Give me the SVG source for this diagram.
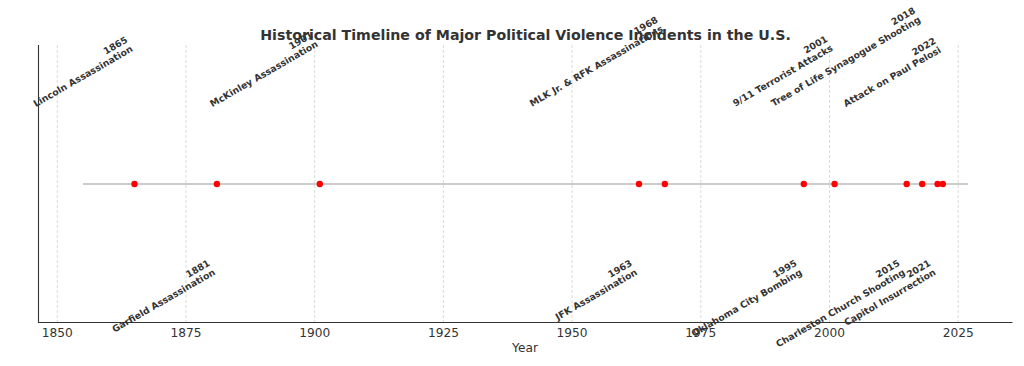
<svg xmlns="http://www.w3.org/2000/svg" width="1024" height="366" viewBox="0 0 1024 366">
<style>
text{font-family:"DejaVu Sans","Liberation Sans",sans-serif;fill:#333333}
.title{font-size:14.2px;font-weight:bold;text-anchor:middle}
.tick{font-size:12.2px;text-anchor:middle}
.lbl{font-size:9.3px;font-weight:bold;text-anchor:end}
.grid{stroke:#d0d0d0;stroke-width:0.8;stroke-dasharray:3 2;fill:none}
.spine{stroke:#333333;stroke-width:1.1;fill:none}
.dot{fill:#ff0000}
</style>
<rect width="1024" height="366" fill="#ffffff"/>
<g id="grid">
<line class="grid" x1="57.3" y1="45" x2="57.3" y2="322.5"/>
<line class="grid" x1="186" y1="45" x2="186" y2="322.5"/>
<line class="grid" x1="314.7" y1="45" x2="314.7" y2="322.5"/>
<line class="grid" x1="443.4" y1="45" x2="443.4" y2="322.5"/>
<line class="grid" x1="572.1" y1="45" x2="572.1" y2="322.5"/>
<line class="grid" x1="700.8" y1="45" x2="700.8" y2="322.5"/>
<line class="grid" x1="829.5" y1="45" x2="829.5" y2="322.5"/>
<line class="grid" x1="958.2" y1="45" x2="958.2" y2="322.5"/>
</g>
<g id="axes">
<path class="spine" d="M38.5,45 V322.5 H1012.5"/>
<text class="tick" x="57.3" y="336.7">1850</text>
<text class="tick" x="186" y="336.7">1875</text>
<text class="tick" x="314.7" y="336.7">1900</text>
<text class="tick" x="443.4" y="336.7">1925</text>
<text class="tick" x="572.1" y="336.7">1950</text>
<text class="tick" x="700.8" y="336.7">1975</text>
<text class="tick" x="829.5" y="336.7">2000</text>
<text class="tick" x="958.2" y="336.7">2025</text>
<text class="tick" x="525" y="351.7">Year</text>
</g>
<g id="connectors">
<line x1="83" y1="184" x2="968" y2="184" stroke="#cccccc" stroke-width="2.2"/>
</g>
<g id="event-1865">
<circle class="dot" cx="134.5" cy="184" r="3.2"/>
<g transform="translate(133.5,50.8) rotate(-30)"><text class="lbl"><tspan x="0" y="-10.41">1865</tspan><tspan x="0" y="0">Lincoln Assassination</tspan></text></g>
</g>
<g id="event-1881">
<circle class="dot" cx="216.9" cy="184" r="3.2"/>
<g transform="translate(215.9,274.1) rotate(-30)"><text class="lbl"><tspan x="0" y="-10.41">1881</tspan><tspan x="0" y="0">Garfield Assassination</tspan></text></g>
</g>
<g id="event-1901">
<circle class="dot" cx="319.8" cy="184" r="3.2"/>
<g transform="translate(318.8,45.9) rotate(-30)"><text class="lbl"><tspan x="0" y="-10.41">1901</tspan><tspan x="0" y="0">McKinley Assassination</tspan></text></g>
</g>
<g id="event-1963">
<circle class="dot" cx="639" cy="184" r="3.2"/>
<g transform="translate(638,274.1) rotate(-30)"><text class="lbl"><tspan x="0" y="-10.41">1963</tspan><tspan x="0" y="0">JFK Assassination</tspan></text></g>
</g>
<g id="event-1968">
<circle class="dot" cx="664.8" cy="184" r="3.2"/>
<g transform="translate(663.8,30.8) rotate(-30)"><text class="lbl"><tspan x="0" y="-10.41">1968</tspan><tspan x="0" y="0">MLK Jr. &amp; RFK Assassinations</tspan></text></g>
</g>
<g id="event-1995">
<circle class="dot" cx="803.8" cy="184" r="3.2"/>
<g transform="translate(802.8,274.1) rotate(-30)"><text class="lbl"><tspan x="0" y="-10.41">1995</tspan><tspan x="0" y="0">Oklahoma City Bombing</tspan></text></g>
</g>
<g id="event-2001">
<circle class="dot" cx="834.6" cy="184" r="3.2"/>
<g transform="translate(833.6,49.9) rotate(-30)"><text class="lbl"><tspan x="0" y="-10.41">2001</tspan><tspan x="0" y="0">9/11 Terrorist Attacks</tspan></text></g>
</g>
<g id="event-2015">
<circle class="dot" cx="906.7" cy="184" r="3.2"/>
<g transform="translate(905.7,274.1) rotate(-30)"><text class="lbl"><tspan x="0" y="-10.41">2015</tspan><tspan x="0" y="0">Charleston Church Shooting</tspan></text></g>
</g>
<g id="event-2018">
<circle class="dot" cx="922.2" cy="184" r="3.2"/>
<g transform="translate(921.2,21.5) rotate(-30)"><text class="lbl"><tspan x="0" y="-10.41">2018</tspan><tspan x="0" y="0">Tree of Life Synagogue Shooting</tspan></text></g>
</g>
<g id="event-2021">
<circle class="dot" cx="937.6" cy="184" r="3.2"/>
<g transform="translate(936.6,274.1) rotate(-30)"><text class="lbl"><tspan x="0" y="-10.41">2021</tspan><tspan x="0" y="0">Capitol Insurrection</tspan></text></g>
</g>
<g id="event-2022">
<circle class="dot" cx="942.8" cy="184" r="3.2"/>
<g transform="translate(941.8,51.8) rotate(-30)"><text class="lbl"><tspan x="0" y="-10.41">2022</tspan><tspan x="0" y="0">Attack on Paul Pelosi</tspan></text></g>
</g>
<text id="title" class="title" x="525.5" y="40.4">Historical Timeline of Major Political Violence Incidents in the U.S.</text>
</svg>
